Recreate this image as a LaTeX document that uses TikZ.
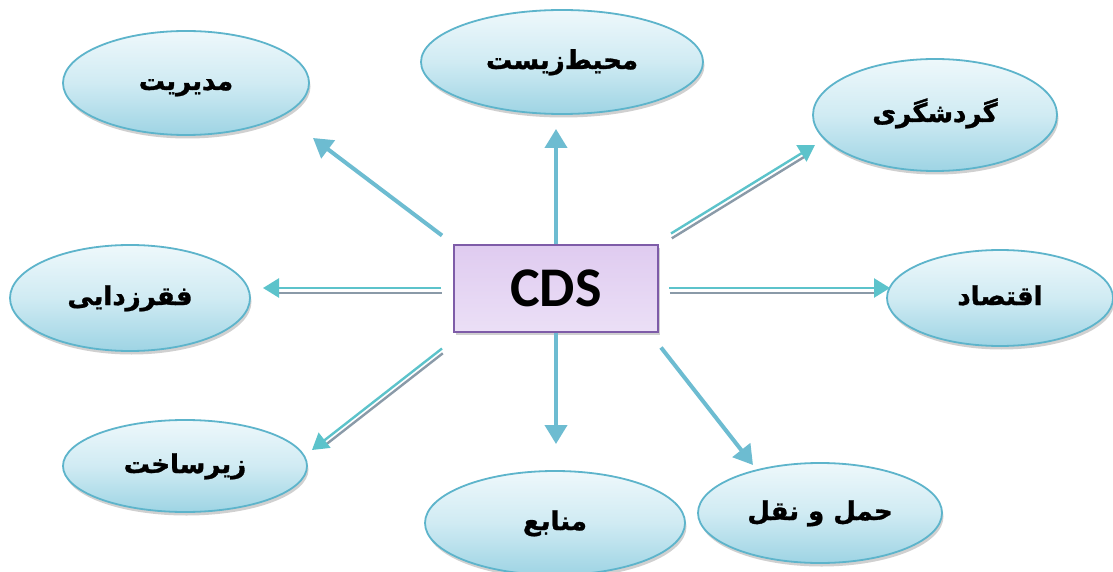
\documentclass[tikz,border=0pt]{standalone}
\usepackage{fontspec}
\setmainfont{Carlito}
\newfontfamily\fa[Script=Arabic, BoldFeatures={FakeBold=1.2}]{DejaVu Sans}
\TeXXeTstate=1
\usetikzlibrary{arrows.meta,shadows,calc,shapes.geometric}
\definecolor{ellborder}{HTML}{5DB4CB}
\definecolor{elltop}{HTML}{EEF8FB}
\definecolor{ellmid}{HTML}{D0EBF3}
\definecolor{ellbot}{HTML}{9ED4E4}
\definecolor{arrcol}{HTML}{6DBCD1}
\definecolor{dblcyan}{HTML}{5CC3CB}
\definecolor{dblgray}{HTML}{8A9AA8}
\definecolor{cdsfill}{HTML}{DFCBF0}
\definecolor{cdsfill2}{HTML}{EBDFF6}
\definecolor{cdsborder}{HTML}{7E5CA8}
\newcommand{\fatext}[1]{\raisebox{-14pt}{\smash{\beginR #1\endR}}}
\tikzset{
  topic/.style={ellipse, draw=ellborder, line width=1.8pt,
    top color=elltop, bottom color=ellbot, middle color=ellmid,
    drop shadow={shadow xshift=1.5pt, shadow yshift=-3.5pt, opacity=0.3, fill=black!60},
    font=\fa\bfseries\fontsize{26}{30}\selectfont, inner sep=0pt},
  cdsbox/.style={rectangle, draw=cdsborder, line width=2pt,
    top color=cdsfill, bottom color=cdsfill2,
    drop shadow={shadow xshift=2pt, shadow yshift=-3pt, opacity=0.3, fill=black!60},
    minimum width=204pt, minimum height=87pt,
    font=\bfseries\fontsize{56}{60}\selectfont},
  single/.style={draw=arrcol, line width=4pt,
    -{Triangle[width=22pt,length=19pt]}},
  dbl/.style={draw=dblcyan, line width=2.4pt,
    -{Triangle[width=19pt,length=16pt]},
    preaction={draw=dblgray, line width=2.4pt, -, shorten >=12pt,
      transform canvas={xshift=0.8pt, yshift=-4.8pt}}}
}
\begin{document}
\begin{tikzpicture}[x=1pt,y=-1pt]
\useasboundingbox (0,0) rectangle (1113,572);
\fill[white] (0,0) rectangle (1113,572);

\node[cdsbox] (cds) at (556,288) {CDS};

\node[topic, minimum width=246pt, minimum height=104pt] (mgmt) at (186,83) {\fatext{مدیریت}};
\node[topic, minimum width=282pt, minimum height=104pt] (env) at (562,62) {\fatext{محیط‌زیست}};
\node[topic, minimum width=244pt, minimum height=112pt] (tour) at (935,115) {\fatext{گردشگری}};
\node[topic, minimum width=240pt, minimum height=106pt] (pov) at (130,298) {\fatext{فقرزدایی}};
\node[topic, minimum width=226pt, minimum height=96pt] (econ) at (1000,298) {\fatext{اقتصاد}};
\node[topic, minimum width=244pt, minimum height=92pt] (infra) at (185,466) {\fatext{زیرساخت}};
\node[topic, minimum width=260pt, minimum height=104pt] (res) at (555,523) {\fatext{منابع}};
\node[topic, minimum width=244pt, minimum height=100pt] (trans) at (820,513) {\fatext{حمل و نقل}};

% single arrows
\draw[single] ([shift={(-11,-8)}]cds.north west) -- ([shift={(127,55)}]mgmt.center);
\draw[single] (cds.north) -- ([shift={(-6,67)}]env.center);
\draw[single] (cds.south) -- ([shift={(1,-79)}]res.center);
\draw[single] ([shift={(2,15)}]cds.south east) -- ([shift={(-67,-48)}]trans.center);

% double arrows
\draw[dbl] ([shift={(12,-10)}]cds.north east) -- ([shift={(-120,30)}]tour.center);
\draw[dbl] ([shift={(-12,0)}]cds.west) -- ([shift={(133,-10)}]pov.center);
\draw[dbl] ([shift={(10,0)}]cds.east) -- ([shift={(-110,-10)}]econ.center);
\draw[dbl] ([shift={(-11,16)}]cds.south west) -- ([shift={(127,-16)}]infra.center);
\end{tikzpicture}
\end{document}
